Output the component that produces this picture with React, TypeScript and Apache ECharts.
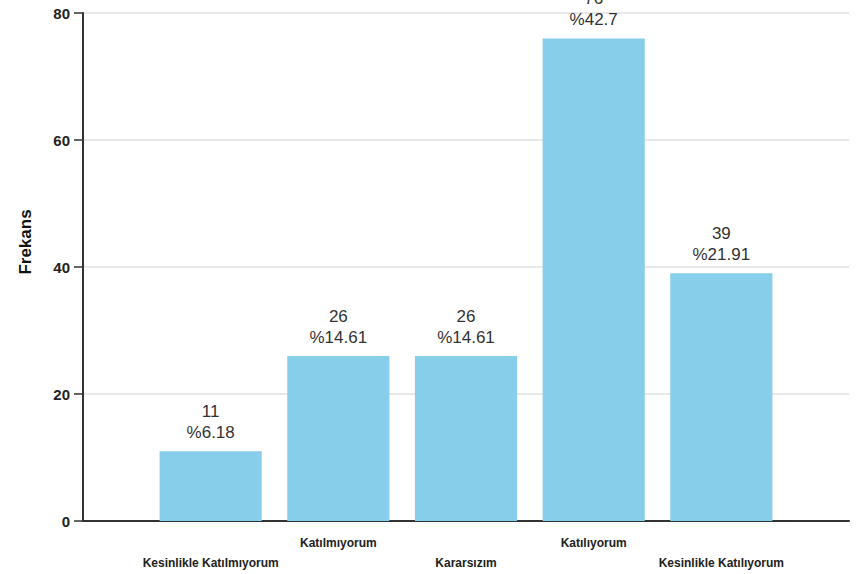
import React, { useEffect, useRef } from "react";
import * as echarts from "echarts";

const categories = [
  "Kesinlikle Katılmıyorum",
  "Katılmıyorum",
  "Kararsızım",
  "Katılıyorum",
  "Kesinlikle Katılıyorum",
];
const counts = [11, 26, 26, 76, 39];
const percents = [6.18, 14.61, 14.61, 42.7, 21.91];
const yTicks = [0, 20, 40, 60, 80];

export default function App() {
  const ref = useRef<HTMLDivElement>(null);
  useEffect(() => {
    document.body.style.margin = "0";
    if (!ref.current) return;
    const chart = echarts.init(ref.current, null, { renderer: "svg" });
    const paddedCats = ["", ...categories, ""];
    const paddedVals: any[] = ["-", ...counts, "-"];
    chart.setOption({
      animation: false,
      backgroundColor: "#ffffff",
      grid: { left: 83, right: 18, top: 13, bottom: 53 },
      xAxis: {
        type: "category",
        data: paddedCats,
        boundaryGap: false,
        axisLine: { lineStyle: { color: "#333", width: 2 } },
        axisTick: { show: false },
        splitLine: { show: false },
        axisLabel: {
          interval: 0,
          margin: 12,
          fontFamily: "Liberation Sans",
          fontWeight: "bold",
          fontSize: 12,
          lineHeight: 20,
          color: "#222",
          formatter: (v: string, i: number) => {
            if (i === 0 || i === paddedCats.length - 1) return "";
            return (i - 1) % 2 === 0 ? "\n" + v : v;
          },
        },
      },
      yAxis: {
        type: "value",
        min: yTicks[0],
        max: yTicks[yTicks.length - 1],
        interval: 20,
        axisLine: { show: true, lineStyle: { color: "#333", width: 2 } },
        axisTick: { show: true, length: 9, lineStyle: { color: "#333", width: 1.5 } },
        axisLabel: {
          margin: 13,
          fontFamily: "Liberation Sans",
          fontWeight: "bold",
          fontSize: 15,
          color: "#222",
        },
        splitLine: { show: true, lineStyle: { color: "#e0e0e0", width: 1.5 } },
      },
      graphic: [
        {
          type: "text",
          x: 25,
          y: 242,
          rotation: Math.PI / 2,
          style: {
            text: "Frekans",
            fontFamily: "Liberation Sans",
            fontWeight: "bold",
            fontSize: 17,
            fill: "#111",
            align: "center",
            verticalAlign: "middle",
          },
        },
      ],
      series: [
        {
          type: "bar",
          data: paddedVals,
          barWidth: "80%",
          itemStyle: { color: "#87CEEB" },
          label: {
            show: true,
            position: "top",
            distance: 8,
            fontFamily: "Liberation Sans",
            fontSize: 17,
            lineHeight: 21,
            color: "#333",
            formatter: (p: any) => {
              const i = p.dataIndex - 1;
              if (i < 0 || i >= counts.length) return "";
              return counts[i] + "\n%" + percents[i];
            },
          },
        },
      ],
    });
    return () => chart.dispose();
  }, []);
  return <div ref={ref} style={{ width: 867, height: 574 }} />;
}
